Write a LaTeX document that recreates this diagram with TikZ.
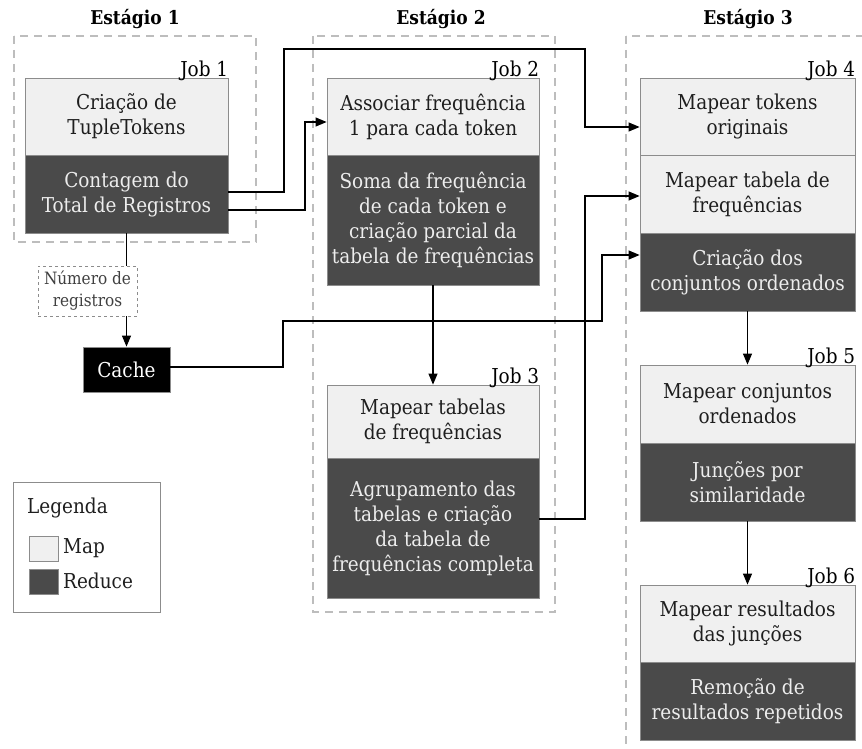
\documentclass[tikz,border=0pt]{standalone}
\usepackage{fontspec}
\setmainfont{DejaVu Serif Condensed}
\newfontfamily\titlefont{DejaVu Serif Condensed}
\usetikzlibrary{arrows.meta}

\definecolor{mapfill}{HTML}{F0F0F0}
\definecolor{redfill}{HTML}{4A4A4A}
\definecolor{boxline}{HTML}{8C8C8C}
\definecolor{stageline}{HTML}{BDBDBD}
\definecolor{maptext}{HTML}{1E1E1E}
\definecolor{redtext}{HTML}{EDEDED}
\definecolor{notetext}{HTML}{404040}

\tikzset{
  base/.style={font=\fontsize{20.5}{25}\selectfont, align=center, inner sep=0pt},
  mapbox/.style={base, rectangle, draw=boxline, line width=0.8pt, fill=mapfill, text=maptext},
  redbox/.style={base, rectangle, draw=boxline, line width=0.8pt, fill=redfill, text=redtext},
  stagebox/.style={draw=stageline, line width=1.6pt, dash pattern=on 8pt off 6pt},
  stagetitle/.style={font=\titlefont\bfseries\fontsize{19}{24}\selectfont, inner sep=0pt},
  joblabel/.style={font=\fontsize{20.5}{25}\selectfont, inner sep=0pt, anchor=base east, yshift=1pt},
  conn/.style={line width=1.1pt, draw=black},
  arr/.style={conn, -{Triangle[length=11pt,width=9pt]}},
}

\begin{document}
\begin{tikzpicture}[x=1pt,y=-1pt]
\useasboundingbox (0,0) rectangle (862,749);
\clip (0,0) rectangle (862,749);

% stage frames and titles
\draw[stagebox] (14,36) rectangle (256,242);
\draw[stagebox] (313,36) rectangle (555,612);
\draw[stagebox] (626,36) rectangle (890,780);
\node[stagetitle] (st1) at (135,19) {Estágio 1};
\node[stagetitle] (st2) at (441,19) {Estágio 2};
\node[stagetitle] (st3) at (748,19) {Estágio 3};

% Job 1
\node[mapbox, minimum width=203pt, minimum height=77pt] (j1m) at (126.5,116.5) {Criação de\\TupleTokens};
\node[redbox, minimum width=203pt, minimum height=78pt] (j1r) at (126.5,194) {Contagem do\\Total de Registros};
\node[joblabel] at (j1m.north east) {Job 1};

% Job 2
\node[mapbox, minimum width=212pt, minimum height=77pt] (j2m) at (433,116.5) {Associar frequência\\1 para cada token};
\node[redbox, minimum width=212pt, minimum height=130pt] (j2r) at (433,220) {Soma da frequência\\de cada token e\\criação parcial da\\tabela de frequências};
\node[joblabel] at (j2m.north east) {Job 2};

% Job 3
\node[mapbox, minimum width=212pt, minimum height=73pt] (j3m) at (433,421.5) {Mapear tabelas\\de frequências};
\node[redbox, minimum width=212pt, minimum height=140pt] (j3r) at (433,528) {Agrupamento das\\tabelas e criação\\da tabela de\\frequências completa};
\node[joblabel] at (j3m.north east) {Job 3};

% Job 4
\node[mapbox, minimum width=215pt, minimum height=77pt] (j4a) at (747.5,116.5) {Mapear tokens\\originais};
\node[mapbox, minimum width=215pt, minimum height=78pt] (j4b) at (747.5,194) {Mapear tabela de\\frequências};
\node[redbox, minimum width=215pt, minimum height=78pt] (j4c) at (747.5,272) {Criação dos\\conjuntos ordenados};
\node[joblabel] at (j4a.north east) {Job 4};

% Job 5
\node[mapbox, minimum width=215pt, minimum height=78pt] (j5m) at (747.5,404) {Mapear conjuntos\\ordenados};
\node[redbox, minimum width=215pt, minimum height=78pt] (j5r) at (747.5,482) {Junções por\\similaridade};
\node[joblabel] at (j5m.north east) {Job 5};

% Job 6
\node[mapbox, minimum width=215pt, minimum height=77pt] (j6m) at (747.5,623.5) {Mapear resultados\\das junções};
\node[redbox, minimum width=215pt, minimum height=78pt] (j6r) at (747.5,701) {Remoção de\\resultados repetidos};
\node[joblabel] at (j6m.north east) {Job 6};

% Cache
\node[base, fill=black, text=white, draw=boxline, line width=0.8pt, minimum width=87pt, minimum height=45pt] (cache) at (126.5,369.5) {Cache};

% connectors
\draw[arr] ([yshift=2pt]j1r.east) -- (284,192) -- (284,49) -- (585,49) -- (585,127) -- ([yshift=-10.5pt]j4a.west);
\draw[arr] ([yshift=-16pt]j1r.east) -- (305,210) -- (305,122) -- ([yshift=-5.5pt]j2m.west);
\draw[arr] (j2r.south) -- (j3m.north);
\draw[arr] ([yshift=9pt]j3r.east) -- (585,519) -- (585,196) -- ([yshift=-2pt]j4b.west);
\draw[arr] ([yshift=2.5pt]cache.east) -- (283,367) -- (283,321) -- (602,321) -- (602,255) -- ([yshift=17pt]j4c.west);
\draw[arr] (j4c.south) -- (j5m.north);
\draw[arr] (j5r.south) -- (j6m.north);
\draw[arr] (j1r.south) -- (cache.north);
\node[base, font=\fontsize{17}{22}\selectfont, text=notetext, fill=white, draw=boxline, line width=0.7pt, dashed, minimum width=99pt, minimum height=50pt] (nreg) at (87.5,291) {Número de\\registros};

% legend
\node[draw=boxline, line width=0.9pt, minimum width=147pt, minimum height=130pt, inner sep=0pt] (legend) at (86.5,547) {};
\node[base, anchor=base west, text=maptext] (legt) at (27,513) {Legenda};
\node[mapbox, minimum width=29pt, minimum height=25pt] (lgmap) at (43.5,548.5) {};
\node[redbox, minimum width=29pt, minimum height=25pt] (lgred) at (43.5,581.5) {};
\node[base, anchor=base west, text=maptext] (lgmapt) at (63,553) {Map};
\node[base, anchor=base west, text=maptext] (lgredt) at (63,588) {Reduce};
\end{tikzpicture}
\end{document}
